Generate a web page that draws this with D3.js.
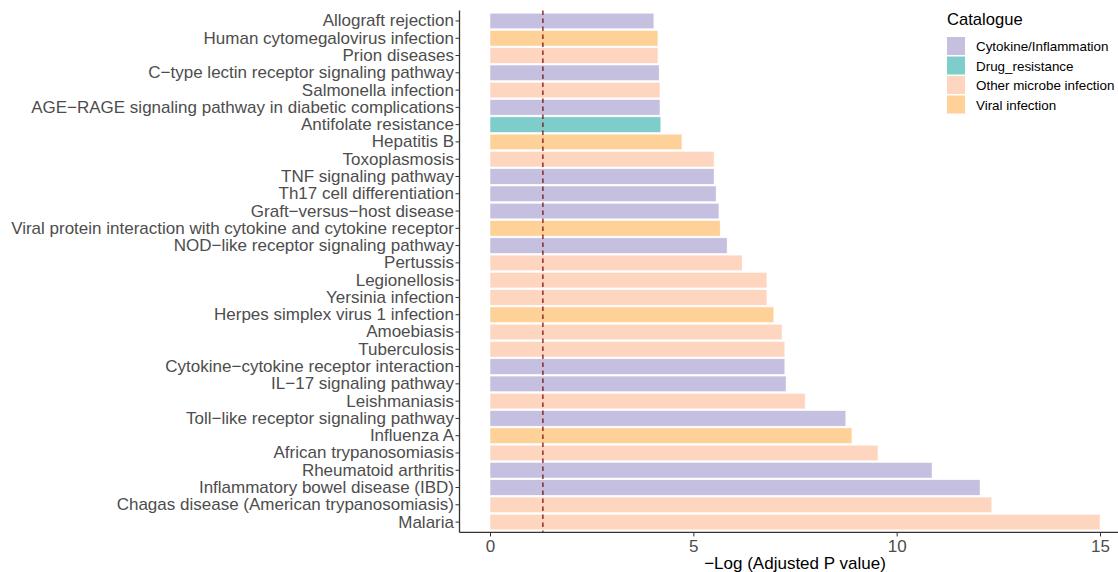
<!DOCTYPE html>
<html>
<head>
<meta charset="utf-8">
<script src="https://cdn.jsdelivr.net/npm/d3@7"></script>
<style>
  body { margin: 0; background: #fff; }
  svg { font-family: "Liberation Sans", Arial, sans-serif; }
</style>
</head>
<body>
<div id="chart"></div>
<script>
// pathways, top to bottom
var pathways = [
  "Allograft rejection",
  "Human cytomegalovirus infection",
  "Prion diseases",
  "C\u2212type lectin receptor signaling pathway",
  "Salmonella infection",
  "AGE\u2212RAGE signaling pathway in diabetic complications",
  "Antifolate resistance",
  "Hepatitis B",
  "Toxoplasmosis",
  "TNF signaling pathway",
  "Th17 cell differentiation",
  "Graft\u2212versus\u2212host disease",
  "Viral protein interaction with cytokine and cytokine receptor",
  "NOD\u2212like receptor signaling pathway",
  "Pertussis",
  "Legionellosis",
  "Yersinia infection",
  "Herpes simplex virus 1 infection",
  "Amoebiasis",
  "Tuberculosis",
  "Cytokine\u2212cytokine receptor interaction",
  "IL\u221217 signaling pathway",
  "Leishmaniasis",
  "Toll\u2212like receptor signaling pathway",
  "Influenza A",
  "African trypanosomiasis",
  "Rheumatoid arthritis",
  "Inflammatory bowel disease (IBD)",
  "Chagas disease (American trypanosomiasis)",
  "Malaria"
];
var logP = [4.03, 4.13, 4.13, 4.16, 4.18, 4.18, 4.20, 4.72, 5.51, 5.51,
            5.56, 5.63, 5.66, 5.83, 6.20, 6.81, 6.81, 6.98, 7.18, 7.25,
            7.25, 7.28, 7.75, 8.75, 8.90, 9.54, 10.87, 12.05, 12.34, 15.0];
var catalogue = ["Cyto", "Viral", "Other", "Cyto", "Other", "Cyto", "Drug", "Viral", "Other", "Cyto",
                 "Cyto", "Cyto", "Viral", "Cyto", "Other", "Other", "Other", "Viral", "Other", "Other",
                 "Cyto", "Cyto", "Other", "Cyto", "Viral", "Other", "Cyto", "Cyto", "Other", "Other"];
var catKeys = ["Cyto", "Drug", "Other", "Viral"];
var catNames = ["Cytokine/Inflammation", "Drug_resistance", "Other microbe infection", "Viral infection"];
var xTicks = [0, 5, 10, 15];
var cutoff = -Math.log10(0.05);

var data = pathways.map(function(p, i) {
  return { name: p, value: logP[i], cat: catalogue[i] };
});

var W = 1118, H = 572;
var margin = {top: 10.6, right: 0, bottom: 40, left: 459.5};
var plotRight = 1130.5;

var svg = d3.select("#chart").append("svg")
  .attr("width", W).attr("height", H);

var color = d3.scaleOrdinal()
  .domain(catKeys)
  .range(["#c5c0e0", "#7fcdcb", "#fed6bf", "#fed199"]);

var x = d3.scaleLinear()
  .domain([-0.75, 15.75])
  .range([margin.left, plotRight]);

var step = 17.28;
var y = d3.scaleBand()
  .domain(pathways)
  .range([margin.top + 0.1 * step, margin.top + 0.1 * step + step * pathways.length])
  .paddingInner(0.1).paddingOuter(0.05);

var panelBottom = margin.top + step * (pathways.length + 0.2);

// bars
svg.append("g")
  .selectAll("rect")
  .data(data)
  .enter().append("rect")
    .attr("x", x(0))
    .attr("y", function(d) { return y(d.name); })
    .attr("width", function(d) { return x(d.value) - x(0); })
    .attr("height", y.bandwidth())
    .attr("fill", function(d) { return color(d.cat); })
    .attr("stroke", "#fff")
    .attr("stroke-width", 0.5);

// significance cutoff
svg.append("line")
  .attr("x1", x(cutoff)).attr("x2", x(cutoff))
  .attr("y1", margin.top).attr("y2", panelBottom)
  .attr("stroke", "#7a0000")
  .attr("stroke-width", 1.2)
  .attr("stroke-dasharray", "4.5,3.5");

// y axis
var yAxis = svg.append("g")
  .attr("transform", "translate(" + margin.left + ",0)")
  .call(d3.axisLeft(y).tickSize(4).tickPadding(1.5));
yAxis.select(".domain").attr("d", "M0," + margin.top + "V" + panelBottom)
  .attr("stroke", "#333").attr("stroke-width", 1.3);
yAxis.selectAll(".tick line").attr("stroke", "#333");
yAxis.selectAll("text")
  .attr("fill", "#4d4d4d")
  .style("font-size", "17px");

// x axis
var xAxis = svg.append("g")
  .attr("transform", "translate(0," + panelBottom + ")")
  .call(d3.axisBottom(x).tickValues(xTicks).tickSize(4).tickPadding(3));
xAxis.select(".domain").attr("d", "M" + margin.left + ",0H" + W)
  .attr("stroke", "#333").attr("stroke-width", 1.3);
xAxis.selectAll(".tick line").attr("stroke", "#333");
xAxis.selectAll("text")
  .attr("fill", "#4d4d4d")
  .style("font-size", "17px");

svg.append("text")
  .attr("x", 795).attr("y", 569)
  .attr("text-anchor", "middle")
  .style("font-size", "17px")
  .attr("fill", "#000")
  .text("\u2212Log (Adjusted P value)");

// legend
var legend = svg.append("g").attr("transform", "translate(947,0)");
legend.append("text")
  .attr("x", 0).attr("y", 25)
  .style("font-size", "16.6px")
  .text("Catalogue");
var item = legend.selectAll(".item")
  .data(catKeys)
  .enter().append("g")
    .attr("transform", function(d, i) { return "translate(0," + (37 + i * 19.5) + ")"; });
item.append("rect")
  .attr("width", 18).attr("height", 18)
  .attr("fill", function(d) { return color(d); });
item.append("text")
  .attr("x", 29).attr("y", 9.5)
  .attr("dy", "0.35em")
  .style("font-size", "13.4px")
  .text(function(d, i) { return catNames[i]; });
</script>
</body>
</html>
